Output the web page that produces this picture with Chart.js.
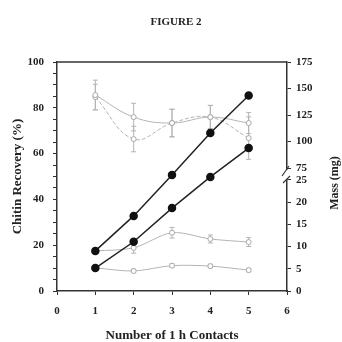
<!DOCTYPE html>
<html>
<head>
<meta charset="utf-8">
<script src="https://cdn.jsdelivr.net/npm/chart.js@4.4.0/dist/chart.umd.min.js"></script>
<style>
  body { margin: 0; background: #fff; }
  #wrap { width: 342px; height: 342px; }
</style>
</head>
<body>
<div id="wrap"><canvas id="grafico"></canvas></div>
<script>
// eixo x: numero de contatos de 1 h
const contacts = [1, 2, 3, 4, 5];
const xTicks = [0, 1, 2, 3, 4, 5, 6];

// recuperacao de quitina (%) - eixo da esquerda
const recoveryA = [17.5, 32.8, 50.7, 69.0, 85.4];
const recoveryB = [10.0, 21.5, 36.2, 49.8, 62.4];

// massa (mg) - parte de cima do eixo da direita
const massHighA = [143.9, 123.1, 117.5, 123.1, 117.5];
const massHighAErr = [14, 13, 13, 11, 10];
const massHighB = [142.0, 102.4, 117.5, 123.1, 103.3];
const massHighBErr = [12, 12, 13, 11, 20];

// massa (mg) - parte de baixo do eixo da direita
const massLowC = [9.0, 9.7, 13.1, 11.7, 11.0];
const massLowCErr = [0.5, 1.2, 1.2, 0.9, 1.0];
const massLowD = [5.2, 4.5, 5.7, 5.6, 4.7];
const massLowDErr = [0.4, 0.4, 0.4, 0.4, 0.4];

// rotulos dos eixos
const leftTicks = [0, 20, 40, 60, 80, 100];
const massHighTicks = [75, 100, 125, 150, 175];
const massLowTicks = [0, 5, 10, 15, 20, 25];

const ink = '#222';
const gray = '#b4b4b4';

function pts(values) {
  return contacts.map((c, i) => ({ x: c, y: values[i] }));
}

function setTicks(list) {
  return scale => { scale.ticks = list.map(v => ({ value: v })); };
}

// barras de erro, caixa de cima, quebra do eixo e titulos
const extras = {
  id: 'extras',
  beforeDatasetsDraw(chart) {
    const ctx = chart.ctx;
    ctx.save();
    chart.data.datasets.forEach((ds, i) => {
      if (!ds.errors) return;
      const meta = chart.getDatasetMeta(i);
      const ys = chart.scales[ds.yAxisID];
      ctx.strokeStyle = gray;
      ctx.lineWidth = 1;
      meta.data.forEach((pt, j) => {
        const v = ds.data[j].y;
        const top = ys.getPixelForValue(v + ds.errors[j]);
        const bot = ys.getPixelForValue(v - ds.errors[j]);
        ctx.beginPath();
        ctx.moveTo(pt.x, top); ctx.lineTo(pt.x, bot);
        ctx.moveTo(pt.x - 2.5, top); ctx.lineTo(pt.x + 2.5, top);
        ctx.moveTo(pt.x - 2.5, bot); ctx.lineTo(pt.x + 2.5, bot);
        ctx.stroke();
      });
    });
    ctx.restore();
  },
  afterDraw(chart) {
    const ctx = chart.ctx;
    const area = chart.chartArea;
    ctx.save();
    // linha de cima da caixa
    ctx.strokeStyle = '#333';
    ctx.lineWidth = 1.5;
    ctx.beginPath();
    ctx.moveTo(area.left, area.top);
    ctx.lineTo(area.right, area.top);
    ctx.stroke();

    // quebra do eixo da direita
    const low = chart.scales.massLow;
    const x = low.left;
    const y0 = low.top;
    ctx.fillStyle = '#fff';
    ctx.fillRect(x - 2, y0 - 4, 4, 9);
    ctx.lineWidth = 1.2;
    ctx.beginPath();
    ctx.moveTo(x - 5, y0 + 2); ctx.lineTo(x + 2, y0 - 8);
    ctx.moveTo(x - 4, y0 + 9); ctx.lineTo(x + 3, y0 + 2);
    ctx.stroke();

    // titulos
    ctx.fillStyle = ink;
    ctx.textAlign = 'center';
    ctx.textBaseline = 'middle';
    ctx.font = "bold 11px 'Liberation Serif', serif";
    ctx.fillText('FIGURE 2', 176, 22);
    ctx.font = "bold 12px 'Liberation Serif', serif";
    ctx.translate(335, 183);
    ctx.rotate(-Math.PI / 2);
    ctx.fillText('Mass (mg)', 0, 0);
    ctx.restore();
  }
};

Chart.defaults.font.family = "'Liberation Serif', 'Times New Roman', serif";
Chart.defaults.font.weight = 'bold';
Chart.defaults.font.size = 11;
Chart.defaults.color = ink;

const grid = { drawOnChartArea: false, drawTicks: true, tickLength: 4, color: '#333' };
const border = { color: '#333', width: 1.5 };

const grayPoint = { pointRadius: 2.5, pointBackgroundColor: '#fff', pointBorderColor: '#a8a8a8' };

new Chart(document.getElementById('grafico'), {
  type: 'line',
  data: {
    datasets: [
      // os primeiros ficam por cima
      {
        data: pts(recoveryA), yAxisID: 'y',
        borderColor: ink, borderWidth: 1.5, tension: 0,
        pointRadius: 3.5, pointBackgroundColor: '#111', pointBorderColor: '#111'
      },
      {
        data: pts(recoveryB), yAxisID: 'y',
        borderColor: ink, borderWidth: 1.5, tension: 0,
        pointRadius: 3.5, pointBackgroundColor: '#111', pointBorderColor: '#111'
      },
      Object.assign({
        data: pts(massHighA), yAxisID: 'massHigh', errors: massHighAErr,
        borderColor: gray, borderWidth: 1, tension: 0.4
      }, grayPoint),
      Object.assign({
        data: pts(massHighB), yAxisID: 'massHigh', errors: massHighBErr,
        borderColor: gray, borderWidth: 1, borderDash: [4, 2], tension: 0.4
      }, grayPoint),
      Object.assign({
        data: pts(massLowC), yAxisID: 'massLow', errors: massLowCErr,
        borderColor: gray, borderWidth: 1, tension: 0.3
      }, grayPoint),
      Object.assign({
        data: pts(massLowD), yAxisID: 'massLow', errors: massLowDErr,
        borderColor: gray, borderWidth: 1, tension: 0.3
      }, grayPoint)
    ]
  },
  options: {
    responsive: true,
    maintainAspectRatio: false,
    animation: false,
    layout: { padding: { top: 62 } },
    plugins: { legend: { display: false }, tooltip: { enabled: false } },
    scales: {
      x: {
        type: 'linear', min: 0, max: 6,
        afterBuildTicks: setTicks(xTicks),
        afterFit: s => { s.height = 51; },
        grid: grid, border: border,
        ticks: { padding: 10, autoSkip: false },
        title: { display: true, text: 'Number of 1 h Contacts', font: { size: 13, lineHeight: 1 }, padding: 0 }
      },
      y: {
        position: 'left', min: 0, max: 100,
        afterBuildTicks: s => {
          s.ticks = [];
          for (let v = 0; v <= 100; v += 5) s.ticks.push({ value: v });
        },
        afterFit: s => { s.width = 57; },
        grid: grid, border: border,
        ticks: { padding: 9, autoSkip: false, callback: v => leftTicks.includes(v) ? v : '' },
        title: { display: true, text: 'Chitin Recovery (%)', font: { size: 13, lineHeight: 1 }, padding: { top: 11 } }
      },
      massHigh: {
        position: 'right', stack: 'mass', stackWeight: 112, weight: 1,
        min: 69.5, max: 175,
        afterBuildTicks: setTicks(massHighTicks),
        afterFit: s => { s.width = 55; },
        grid: grid, border: border,
        ticks: { padding: 5, autoSkip: false }
      },
      massLow: {
        position: 'right', stack: 'mass', stackWeight: 117, weight: 2,
        min: 0, max: 26.3,
        afterBuildTicks: setTicks(massLowTicks),
        afterFit: s => { s.width = 55; },
        grid: grid, border: border,
        ticks: { padding: 5, autoSkip: false }
      }
    }
  },
  plugins: [extras]
});
</script>
</body>
</html>
